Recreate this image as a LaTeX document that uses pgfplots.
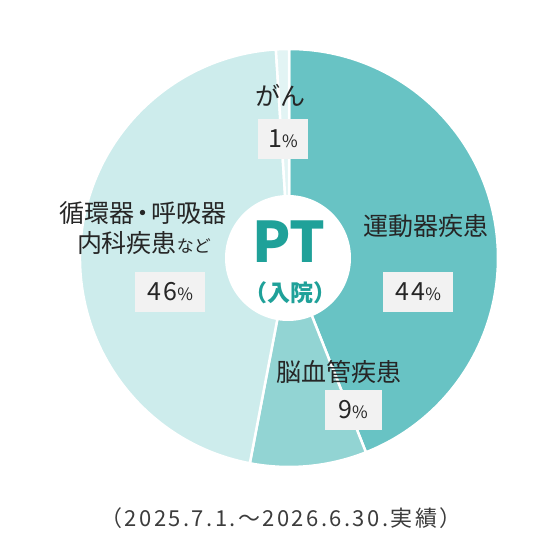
\documentclass[border=0pt]{standalone}
\usepackage{pgfplots}
\pgfplotsset{compat=1.18}
\usepackage{pgfplotstable}
\usepackage{fontspec}
\setmainfont{Noto Sans CJK JP}

\definecolor{slice0}{HTML}{68C3C4}
\definecolor{slice1}{HTML}{92D4D3}
\definecolor{slice2}{HTML}{CDECEC}
\definecolor{slice3}{HTML}{E2F4F4}
\definecolor{ptteal}{HTML}{1FA199}
\definecolor{boxgray}{HTML}{F2F2F2}
\definecolor{txt}{HTML}{262626}

% share of each group, clockwise from 12 o'clock
\pgfplotstableread{
group pct
運動器疾患 44
脳血管疾患 9
循環器・呼吸器 46
がん 1
}\piedata

\newcommand{\pct}[1]{\fontsize{25}{25}\selectfont\addfontfeature{LetterSpace=10}#1\fontsize{17}{17}\selectfont\%}

\begin{document}
\begin{tikzpicture}
\begin{axis}[
  hide axis,
  x=1pt, y=1pt,
  xmin=0, xmax=558, ymin=0, ymax=546,
  clip=false,
]
\path (axis cs:0,0) rectangle (axis cs:558,546);

\pgfmathsetmacro{\acc}{0}
\pgfplotsforeachungrouped \i in {0,...,3}{
  \pgfplotstablegetelem{\i}{pct}\of\piedata
  \pgfmathsetmacro{\a}{90-3.6*\acc}
  \pgfmathsetmacro{\b}{90-3.6*(\acc+\pgfplotsretval)}
  \pgfmathsetmacro{\acc}{\acc+\pgfplotsretval}
  \edef\temp{\noexpand\filldraw[fill=slice\i, draw=white, line width=2.5pt, line join=round]
    (axis cs:289,288) -- ++(\a:209pt) arc[start angle=\a, end angle=\b, radius=209pt] -- cycle;}
  \temp
}

% centre hole
\fill[white] (axis cs:288,288) circle[radius=63pt];
\node[text=ptteal, font=\fontsize{56}{56}\selectfont\bfseries] at (axis cs:289,304) {PT};
\node[text=ptteal, font=\fontsize{23}{23}\selectfont\bfseries] at (axis cs:290,253) {（入院）};

% labels
\begin{scope}[every node/.style={text=txt, font=\fontsize{25}{25}\selectfont}]
\node at (axis cs:280,451) {がん};
\node at (axis cs:143,333) {循環器\kern-0.18em・\kern-0.18em呼吸器};
\node at (axis cs:144,303) {内科疾患{\fontsize{17}{17}\selectfont など}};
\node at (axis cs:426,320) {運動器疾患};
\node at (axis cs:339,174) {脳血管疾患};
\end{scope}

\begin{scope}[every node/.style={text=txt, fill=boxgray, inner sep=0pt, minimum height=40pt}]
\node[minimum width=50pt] at (axis cs:283,407) {\pct{1}};
\node[minimum width=70pt] at (axis cs:170,254) {\pct{46}};
\node[minimum width=70pt] at (axis cs:418,254) {\pct{44}};
\node[minimum width=57pt] at (axis cs:353,136) {\pct{9}};
\end{scope}

\node[text=txt!90, font=\fontsize{22}{22}\selectfont\addfontfeature{LetterSpace=11}] at (axis cs:281,28) {（2025.7.1.～2026.6.30.実績）};
\end{axis}
\end{tikzpicture}
\end{document}
